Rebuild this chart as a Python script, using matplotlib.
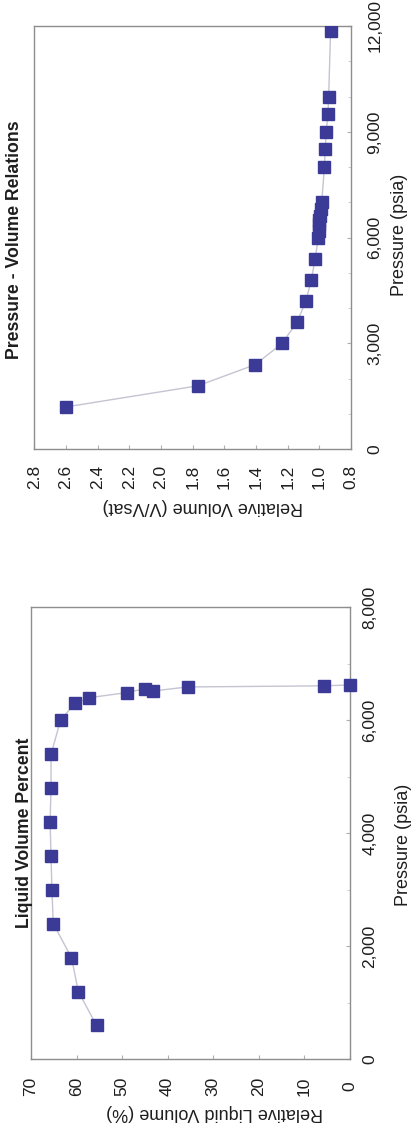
import matplotlib
matplotlib.use('Agg')
import matplotlib.pyplot as plt
from matplotlib.ticker import FixedLocator, MultipleLocator

plt.rcParams['font.family'] = ['Liberation Sans', 'DejaVu Sans']

# ---- data: Pressure - Volume Relations ----
pv_pressure = [1200, 1800, 2400, 3000, 3600, 4200, 4800, 5400, 6000, 6200, 6400,
               6500, 6600, 6800, 7000, 8000, 8500, 9000, 9500, 10000, 11850]
pv_relvol = [2.601, 1.767, 1.405, 1.236, 1.141, 1.085, 1.051, 1.026, 1.007, 1.004,
             1.001, 0.999, 0.997, 0.991, 0.985, 0.968, 0.963, 0.956, 0.946, 0.941, 0.929]

# ---- data: Liquid Volume Percent ----
lv_pressure = [600, 1200, 1800, 2400, 3000, 3600, 4200, 4800, 5400, 6000, 6300,
               6400, 6490, 6560, 6520, 6590, 6610, 6625]
lv_percent = [55.6, 59.6, 61.1, 65.1, 65.4, 65.6, 65.8, 65.6, 65.6, 63.5, 60.4,
              57.2, 49.0, 44.9, 43.1, 35.6, 5.7, 0.0]

# ---- tick values ----
pv_vol_ticks = [0.8, 1.0, 1.2, 1.4, 1.6, 1.8, 2.0, 2.2, 2.4, 2.6, 2.8]
pv_p_ticks = [0, 3000, 6000, 9000, 12000]
lv_vol_ticks = [0, 10, 20, 30, 40, 50, 60, 70]
lv_p_ticks = [0, 2000, 4000, 6000, 8000]

W, H = 416, 1129
fig = plt.figure(figsize=(W / 100, H / 100), dpi=100)
fig.patch.set_facecolor('white')

MARK = '#3b3b97'
LINE = '#c4c4d2'
SPINE = '#8e8e8e'
TXT = '#1e1e1e'


def fx(x):
    return x / W


def fy(y):
    return 1 - y / H


def style(ax, xticks, xlabels, yticks, ylabels, xpad, ypad):
    for s in ax.spines.values():
        s.set_color(SPINE)
        s.set_linewidth(1.0)
    ax.xaxis.set_major_locator(FixedLocator(xticks))
    ax.set_xticklabels(xlabels)
    ax.yaxis.set_major_locator(FixedLocator(yticks))
    ax.set_yticklabels(ylabels)
    ax.yaxis.tick_right()
    ax.tick_params(axis='x', direction='in', length=3, color='#b0b0b0',
                   labelsize=12.5, labelcolor=TXT, pad=xpad, top=False)
    ax.tick_params(axis='y', direction='in', length=3, color='#b0b0b0',
                   labelsize=12.5, labelcolor=TXT, pad=ypad, left=False)
    for lab in ax.get_xticklabels():
        lab.set_rotation(90)
        lab.set_va('center')
        lab.set_ha('center')
    for lab in ax.get_yticklabels():
        lab.set_rotation(90)
        lab.set_va('center')
        lab.set_ha('center')


# ---- upper panel: Pressure - Volume Relations ----
ax1 = fig.add_axes([fx(34.3), fy(449.3), fx(351) - fx(34.3), fy(26) - fy(449.3)])
ax1.plot(pv_relvol, pv_pressure, color=LINE, lw=1.0, zorder=2)
ax1.plot(pv_relvol, pv_pressure, ls='none', marker='s', ms=8.2, mfc=MARK,
         mec=MARK, zorder=3)
ax1.set_xlim(2.8, 0.8)
ax1.set_ylim(0, 12000)
style(ax1, pv_vol_ticks, [f'{v:.1f}' for v in pv_vol_ticks],
      pv_p_ticks, [f'{v:,}' for v in pv_p_ticks], 19.7, 17.3)
ax1.yaxis.set_minor_locator(MultipleLocator(1000))
ax1.tick_params(axis='y', which='minor', direction='in', length=2, color='#c8c8c8',
                left=False, right=True)

fig.text(fx(15), fy(240), 'Pressure - Volume Relations', rotation=90,
         ha='center', va='center', fontsize=12.7, fontweight='bold', color=TXT)
fig.text(fx(399), fy(235), 'Pressure (psia)', rotation=90,
         ha='center', va='center', fontsize=13, color=TXT)
fig.text(fx(203), fy(506.7), 'Relative Volume (V/Vsat)', rotation=180,
         ha='center', va='center', fontsize=13, color=TXT)

# ---- lower panel: Liquid Volume Percent ----
ax2 = fig.add_axes([fx(31), fy(1059.3), fx(349.5) - fx(31), fy(607.3) - fy(1059.3)])
ax2.plot(lv_percent, lv_pressure, color=LINE, lw=1.0, zorder=2)
ax2.plot(lv_percent, lv_pressure, ls='none', marker='s', ms=8.2, mfc=MARK,
         mec=MARK, zorder=3, clip_on=False)
ax2.set_xlim(70, 0)
ax2.set_ylim(0, 8000)
style(ax2, lv_vol_ticks, [str(v) for v in lv_vol_ticks],
      lv_p_ticks, [f'{v:,}' for v in lv_p_ticks], 19.4, 14.8)
ax2.yaxis.set_minor_locator(MultipleLocator(1000))
ax2.tick_params(axis='y', which='minor', direction='in', length=2, color='#c8c8c8',
                left=False, right=True)

fig.text(fx(25), fy(833), 'Liquid Volume Percent', rotation=90,
         ha='center', va='center', fontsize=12.7, fontweight='bold', color=TXT,
         zorder=5)
fig.text(fx(403), fy(845), 'Pressure (psia)', rotation=90,
         ha='center', va='center', fontsize=13, color=TXT)
fig.text(fx(215), fy(1113), 'Relative Liquid Volume (%)', rotation=180,
         ha='center', va='center', fontsize=13, color=TXT)

fig.savefig('out.png', dpi=100, facecolor='white')
